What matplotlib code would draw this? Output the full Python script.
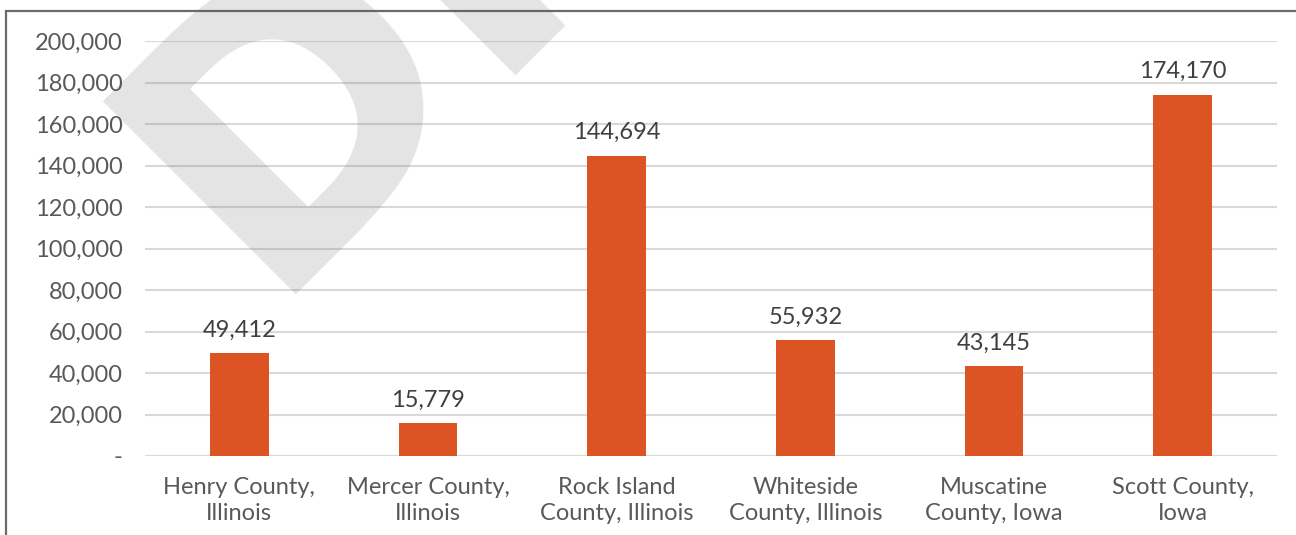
import matplotlib.pyplot as plt
from matplotlib.patches import Rectangle
from matplotlib.ticker import FuncFormatter

counties = ["Henry County,\nIllinois", "Mercer County,\nIllinois", "Rock Island\nCounty, Illinois",
            "Whiteside\nCounty, Illinois", "Muscatine\nCounty, Iowa", "Scott County,\nIowa"]
population = [49412, 15779, 144694, 55932, 43145, 174170]
y_ticks = [0, 20000, 40000, 60000, 80000, 100000, 120000, 140000, 160000, 180000, 200000]

text_color = "#595959"
bar_color = "#dc5424"

plt.rcParams['font.family'] = ['Lato', 'DejaVu Sans']

fig = plt.figure(figsize=(12.96, 5.35), dpi=100)
ax = fig.add_axes([145 / 1296, 1 - 456 / 535, (1277 - 145) / 1296, (456 - 41) / 535])

x = range(len(counties))
bars = ax.bar(x, population, width=0.31, color=bar_color, zorder=3)

ax.set_xlim(-0.5, len(counties) - 0.5)
ax.set_ylim(0, 200000)
ax.set_yticks(y_ticks)
ax.yaxis.set_major_formatter(FuncFormatter(lambda v, p: "-" if v == 0 else f"{int(v):,}"))
ax.set_xticks(list(x))
ax.set_xticklabels(counties, linespacing=1.3)
ax.grid(axis='y', color="#d9d9d9", linewidth=1.5, zorder=0)
ax.set_axisbelow(True)
for s in ax.spines.values():
    s.set_visible(False)
ax.tick_params(axis='both', length=0, labelsize=17, labelcolor=text_color)
ax.tick_params(axis='y', pad=16)
ax.tick_params(axis='x', pad=15)

# value labels above each bar
for rect, val in zip(bars, population):
    ax.annotate(f"{val:,}", (rect.get_x() + rect.get_width() / 2, val),
                xytext=(0, 9), textcoords='offset points', ha='center', va='bottom',
                fontsize=17, color="#404040")

# chart frame (top and left edges)
fig.patches.append(Rectangle((5.5 / 1296, -0.1), 1.2, 1.1 - 10.5 / 535,
                             transform=fig.transFigure, fill=False,
                             edgecolor="#6b6b6b", linewidth=1.6))

# draft watermark
fig.text(262 / 1296, 1 - 295 / 535, "DRAFT", rotation=45, rotation_mode='anchor',
         ha='left', va='baseline', fontsize=270, fontweight='bold',
         family='DejaVu Sans', color="#555555", alpha=0.16, zorder=5)

fig.savefig("out.png", dpi=100)
